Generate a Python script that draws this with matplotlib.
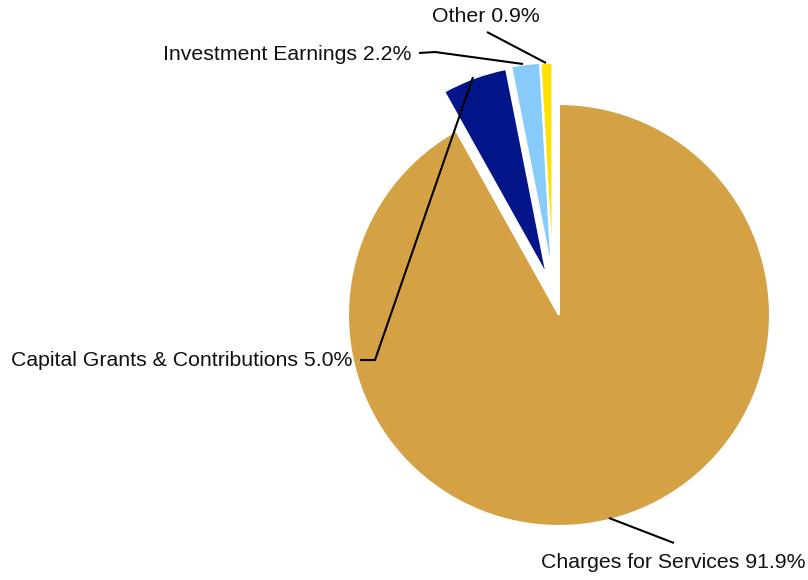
import matplotlib
matplotlib.use("Agg")
import matplotlib.pyplot as plt

categories = ["Charges for Services", "Capital Grants & Contributions", "Investment Earnings", "Other"]
values = [91.9, 5.0, 2.2, 0.9]
colors = ["#D4A245", "#041489", "#87CBFB", "#FFE100"]

W, H = 808, 580
fig = plt.figure(figsize=(W / 100, H / 100), dpi=100)
ax = fig.add_axes([0, 0, 1, 1])

def Y(y):
    return H - y

cx, cy, r = 559, Y(315), 211
# pull-out offsets of each slice in pixels (dx, dy with y up)
offsets = [(0, 0), (-12, 39), (-7, 41.5), (-6.5, 41)]
wedges, _ = ax.pie(values, colors=colors, startangle=90, counterclock=False,
                   center=(cx, cy), radius=r, frame=True,
                   wedgeprops=dict(edgecolor="white", linewidth=1.5))
for w, (dx, dy) in zip(wedges, offsets):
    w.set_center((cx + dx, cy + dy))
ax.set_xlim(0, W)
ax.set_ylim(0, H)
ax.set_aspect("equal")
ax.axis("off")

font = dict(family=["Liberation Sans", "DejaVu Sans"], fontsize=15.3, color="#111111")
labels = [f"{c} {v:.1f}%" for c, v in zip(categories, values)]

# leader lines (image pixel coords)
lines = [
    [(609, 518), (674, 543)],
    [(360, 360), (375, 360), (473, 77)],
    [(419, 53), (435, 52), (523, 64)],
    [(487, 32), (546, 63)],
]
for pts in lines:
    xs = [p[0] for p in pts]
    ys = [Y(p[1]) for p in pts]
    ax.plot(xs, ys, color="black", lw=1.5, solid_capstyle="butt")

ax.text(673, Y(563), labels[0], ha="center", va="center", **font)
ax.text(352, Y(361), labels[1], ha="right", va="center", **font)
ax.text(411, Y(54), labels[2], ha="right", va="center", **font)
ax.text(486, Y(17), labels[3], ha="center", va="center", **font)

fig.savefig("out.png", dpi=100)
